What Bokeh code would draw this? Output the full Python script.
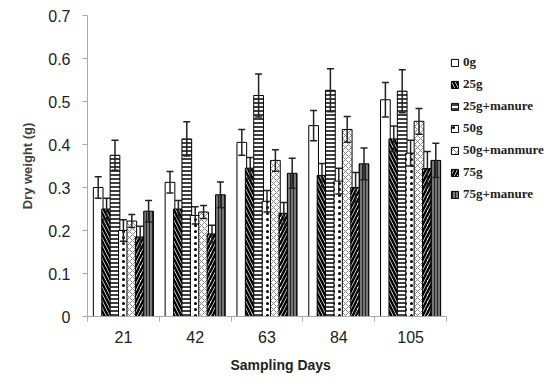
import numpy as np
from bokeh.plotting import figure
from bokeh.models import Range1d, FixedTicker, Legend, LegendItem, Title
from bokeh.embed import file_html
from bokeh.resources import INLINE

days = ["21", "42", "63", "84", "105"]
series = ["0g", "25g", "25g+manure", "50g", "50g+manmure", "75g", "75g+manure"]

v_0g = [0.300, 0.312, 0.405, 0.444, 0.504]
v_25g = [0.250, 0.250, 0.345, 0.328, 0.413]
v_25gm = [0.375, 0.413, 0.514, 0.526, 0.524]
v_50g = [0.200, 0.235, 0.268, 0.315, 0.380]
v_50gm = [0.222, 0.243, 0.363, 0.435, 0.454]
v_75g = [0.185, 0.192, 0.240, 0.300, 0.344]
v_75gm = [0.245, 0.283, 0.333, 0.355, 0.363]

e_0g = [0.025, 0.025, 0.030, 0.035, 0.040]
e_25g = [0.025, 0.020, 0.025, 0.028, 0.030]
e_25gm = [0.035, 0.040, 0.050, 0.050, 0.050]
e_50g = [0.025, 0.020, 0.025, 0.030, 0.030]
e_50gm = [0.015, 0.015, 0.025, 0.030, 0.030]
e_75g = [0.025, 0.020, 0.025, 0.035, 0.040]
e_75gm = [0.025, 0.030, 0.035, 0.037, 0.040]

values = [v_0g, v_25g, v_25gm, v_50g, v_50gm, v_75g, v_75gm]
errors = [e_0g, e_25g, e_25gm, e_50g, e_50gm, e_75g, e_75gm]

y_ticks = [0, 0.1, 0.2, 0.3, 0.4, 0.5, 0.6, 0.7]

styles = [
    dict(fill_color="white", hatch_pattern=None),
    dict(fill_color="white", hatch_pattern="\\", hatch_scale=7, hatch_weight=2.5, hatch_color="black"),
    dict(fill_color="white", hatch_pattern="-", hatch_scale=4, hatch_weight=1.5, hatch_color="black"),
    dict(fill_color="white", hatch_pattern=".", hatch_scale=6, hatch_weight=2.5, hatch_color="black"),
    dict(fill_color="white", hatch_pattern="x", hatch_scale=6, hatch_weight=1, hatch_color="#888888"),
    dict(fill_color="white", hatch_pattern="/", hatch_scale=7, hatch_weight=2.5, hatch_color="black"),
    dict(fill_color="#777777", hatch_pattern="|", hatch_scale=3, hatch_weight=1, hatch_color="#222222"),
]

n = len(days)
centers = np.arange(1, n + 1)
step = 0.117
bw = 0.135

# frame spans 87..554 px; the category axis occupies 87..446 px
x_end = 0.5 + n * (554 - 87) / (446 - 87)

p = figure(width=554, height=382, output_backend="svg", toolbar_location=None,
           x_range=Range1d(0.5, x_end), y_range=Range1d(0, 0.7),
           min_border_left=87, min_border_right=0,
           min_border_top=15, min_border_bottom=66)
p.outline_line_color = None
p.grid.visible = False
p.background_fill_color = "white"
p.border_fill_color = "white"

items = []
for i, (name, vals, errs, st) in enumerate(zip(series, values, errors, styles)):
    x = centers + (i - 3) * step
    vals = np.array(vals)
    errs = np.array(errs)
    r = p.vbar(x=x, top=vals, width=bw, line_color="black", line_width=1, **st)
    p.segment(x0=x, y0=vals - errs, x1=x, y1=vals + errs, line_color="#222222", line_width=1.5)
    p.scatter(x=np.concatenate([x, x]), y=np.concatenate([vals + errs, vals - errs]),
              marker="dash", size=7, line_color="#222222", line_width=1.5)
    items.append(LegendItem(label=name, renderers=[r]))

# y axis
ya = p.yaxis[0]
ya.ticker = FixedTicker(ticks=y_ticks)
ya.major_label_overrides = {0: "0"}
ya.axis_label = "Dry weight (g)"
ya.axis_label_text_font = "Liberation Sans"
ya.axis_label_text_font_style = "bold"
ya.axis_label_text_font_size = "13px"
ya.major_label_text_font = "Liberation Sans"
ya.major_label_text_font_size = "16px"
ya.major_label_text_color = "#222222"
ya.axis_line_color = "#aaaaaa"
ya.major_tick_line_color = "#aaaaaa"
ya.major_tick_out = 5
ya.major_tick_in = 0
ya.minor_tick_line_color = None
ya.major_label_standoff = 12
ya.axis_label_standoff = 10

# x axis: labels at group centres, tick marks at group boundaries
xa = p.xaxis[0]
xa.bounds = (0.5, n + 0.5)
xa.ticker = FixedTicker(ticks=list(centers), minor_ticks=list(np.arange(n + 1) + 0.5))
xa.major_label_overrides = {int(c): d for c, d in zip(centers, days)}
xa.axis_line_color = "#aaaaaa"
xa.major_tick_line_color = None
xa.minor_tick_line_color = "#aaaaaa"
xa.minor_tick_out = 5
xa.minor_tick_in = 0
xa.major_tick_out = 5
xa.major_label_text_font = "Liberation Sans"
xa.major_label_text_font_size = "16px"
xa.major_label_text_color = "#222222"
xa.major_label_standoff = 9

xtitle = Title(text="Sampling Days", align="left", offset=143,
               text_font="Liberation Sans", text_font_style="bold",
               text_font_size="14px", text_color="#222222", standoff=18)
p.add_layout(xtitle, "below")

legend = Legend(items=items, location=(363, 114), padding=0, margin=0,
                border_line_color=None, background_fill_alpha=0,
                glyph_width=9, glyph_height=9, label_height=12, spacing=6,
                label_standoff=4, label_text_font="Liberation Serif",
                label_text_font_style="bold", label_text_font_size="13px",
                label_text_color="#222222")
p.add_layout(legend, "center")

open("out.html", "w").write(file_html(p, INLINE))
